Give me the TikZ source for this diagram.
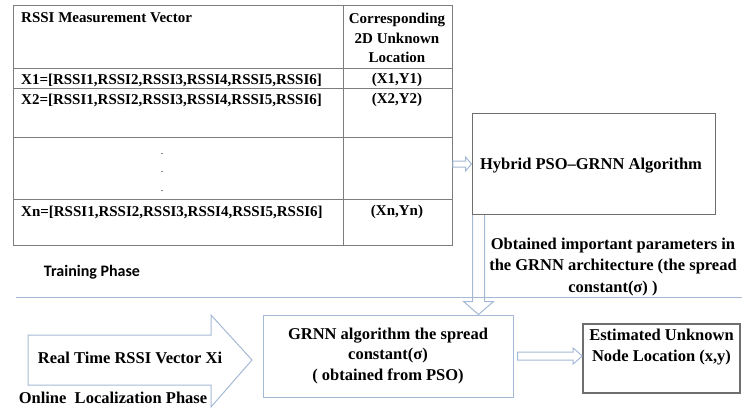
\documentclass[tikz,border=0pt]{standalone}
\usepackage{fontspec}
\setmainfont{Liberation Serif}
\newfontfamily\phasefont{Carlito}
\usetikzlibrary{calc}
\definecolor{lineblue}{RGB}{165,184,212}
\definecolor{gridgray}{RGB}{125,125,125}
\definecolor{boxgray}{RGB}{110,110,110}

\begin{document}
\begin{tikzpicture}[x=1pt, y=-1pt,
    lbl/.style={font=\bfseries\fontsize{16.5}{20.5}\selectfont, inner sep=0pt, align=center},
    cell/.style={font=\bfseries\fontsize{15}{19.5}\selectfont, inner sep=0pt, align=center},
    grid/.style={draw=gridgray, line width=0.9pt},
    hollow/.style={draw=lineblue, line width=1pt, line join=miter}
  ]
  \useasboundingbox (0,0) rectangle (742,412);

  % Training table
  \node[grid, anchor=north west, minimum width=439, minimum height=240, inner sep=0pt] (tbl) at (13,5) {};
  \draw[grid] (343,5) -- (343,245);
  \foreach \y in {68,88,137,199} \draw[grid] (13,\y) -- (452,\y);
  \node[cell, anchor=west] (hvec) at (21,18) {RSSI Measurement Vector};
  \node[cell] (hloc) at (397,38) {Corresponding\\2D Unknown\\Location};
  \node[cell, anchor=west] (vx1) at (21,80) {X1=[RSSI1,RSSI2,RSSI3,RSSI4,RSSI5,RSSI6]};
  \node[cell] (lx1) at (397,80) {(X1,Y1)};
  \node[cell, anchor=west] (vx2) at (21,100) {X2=[RSSI1,RSSI2,RSSI3,RSSI4,RSSI5,RSSI6]};
  \node[cell] (lx2) at (397,100) {(X2,Y2)};
  \foreach \y [count=\i] in {154,172,191} \node[font=\fontsize{10}{10}\selectfont, inner sep=0pt] (dot\i) at (162,\y) {.};
  \node[cell, anchor=west] (vxn) at (21,212) {Xn=[RSSI1,RSSI2,RSSI3,RSSI4,RSSI5,RSSI6]};
  \node[cell] (lxn) at (397,212) {(Xn,Yn)};

  % Hybrid PSO-GRNN
  \node[draw=boxgray, line width=1pt, minimum width=243, minimum height=101] (pso) at (593.5,164) {};
  \node[lbl] (psotxt) at (591,166) {Hybrid PSO--GRNN Algorithm};
  \coordinate (a1s) at (tbl.east |- pso.west);
  \coordinate (a1e) at (pso.west);
  \draw[hollow] ($(a1s)+(0,-3)$) -- ($(a1e)+(-6,-3)$) -- ($(a1e)+(-6,-7)$) -- (a1e)
    -- ($(a1e)+(-6,7)$) -- ($(a1e)+(-6,3)$) -- ($(a1s)+(0,3)$) -- cycle;
  \node[lbl, font=\bfseries\fontsize{16.5}{21.5}\selectfont] (param) at (613,267) {Obtained important parameters in\\the GRNN architecture (the spread\\constant(σ) )};

  % Phase separator
  \node[font=\phasefont\bfseries\fontsize{16}{16}\selectfont, inner sep=0pt] (train) at (92,272) {Training Phase};
  \draw[lineblue, line width=1pt] (16,297) -- (742,297);

  % Online stage
  \node[lbl, draw=lineblue, line width=1pt, minimum width=250, minimum height=82] (grnn) at (388,356) {GRNN algorithm the spread\\constant(σ)\\( obtained from PSO)};
  \coordinate (a2s) at ($(pso.south west)+(7,0)$);
  \coordinate (a2e) at (a2s |- grnn.north);
  \draw[hollow] ($(a2s)+(-6,0)$) -- ($(a2e)+(-6,-13)$) -- ($(a2e)+(-15,-13)$) -- (a2e)
    -- ($(a2e)+(15,-13)$) -- ($(a2e)+(6,-13)$) -- ($(a2s)+(6,0)$);

  \draw[hollow] (28,335) -- (211,335) -- (211,315) -- (252,360) -- (211,407) -- (211,385) -- (28,385) -- cycle;
  \node[lbl] (rtv) at (130,358) {Real Time RSSI Vector Xi};
  \node[lbl] (online) at (113,398) {Online\ \ Localization Phase};

  \node[draw=boxgray, line width=1.6pt, minimum width=157, minimum height=69, inner sep=0pt] (est) at (661.5,358.5) {};
  \node[lbl, anchor=north] (esttxt) at ($(est.north)+(0,6)$) {Estimated Unknown\\Node Location (x,y)};
  \coordinate (a3s) at ($(grnn.east)+(4,0)$);
  \coordinate (a3e) at (grnn.east -| est.west);
  \draw[hollow] ($(a3s)+(0,-4)$) -- ($(a3e)+(-9,-4)$) -- ($(a3e)+(-9,-8)$) -- (a3e)
    -- ($(a3e)+(-9,8)$) -- ($(a3e)+(-9,4)$) -- ($(a3s)+(0,4)$) -- cycle;
\end{tikzpicture}
\end{document}
